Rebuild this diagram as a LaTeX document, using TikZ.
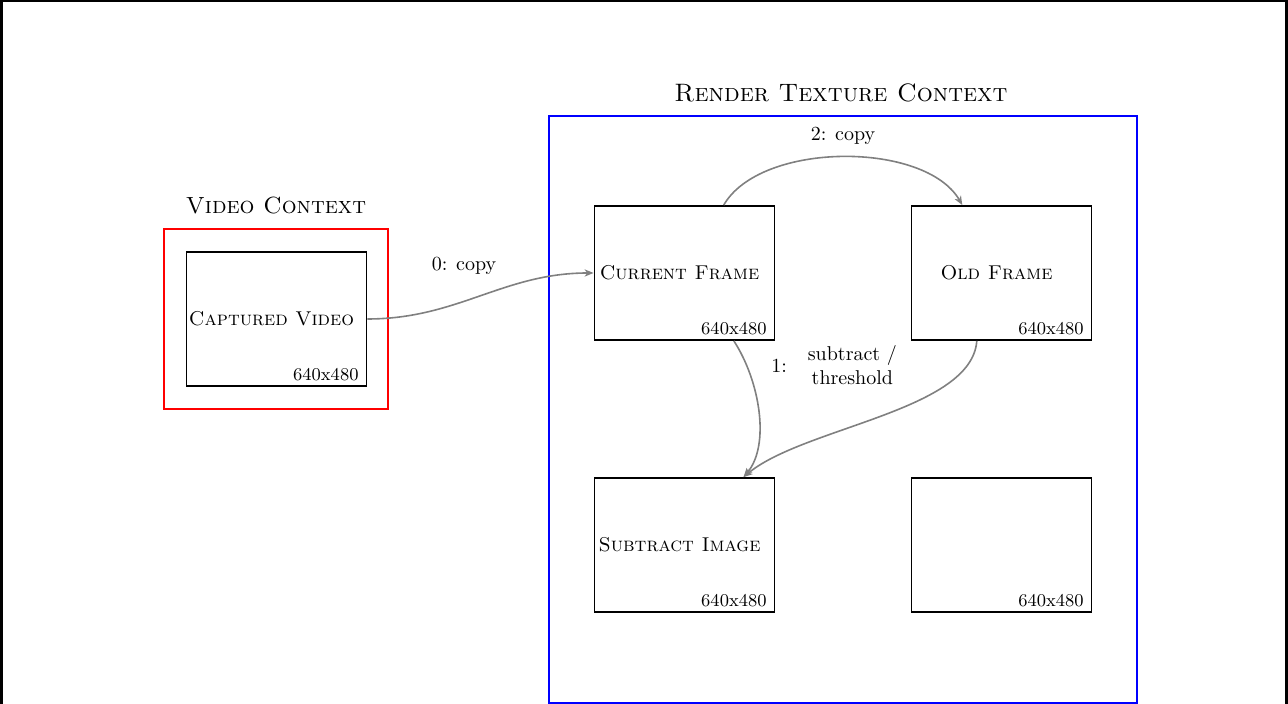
\documentclass[tikz,border=0pt]{standalone}
\usetikzlibrary{arrows.meta}
\begin{document}
\begin{tikzpicture}[x=0.5pt,y=0.5pt,
  frame/.style={draw, line width=0.9pt, minimum width=90pt, minimum height=67pt, inner sep=0pt},
  dim/.style={font=\small, inner sep=0pt, anchor=base east},
  arr/.style={draw=gray, line width=0.8pt, -{Stealth[length=4.5pt,width=3.6pt,inset=1.3pt]}},
  ctx/.style={anchor=base, inner sep=0pt},
  lbl/.style={anchor=base, inner sep=0pt}]
\useasboundingbox (0,0) rectangle (1288,704);
% page edge lines
\fill (0,0) rectangle (3,704);
\fill (0,702) rectangle (1288,704);
\fill (1285,0) rectangle (1288,704);
% contexts
\draw[red, line width=0.9pt] (164,295) rectangle (388,475);
\draw[blue, line width=0.9pt] (549,1) rectangle (1137,588);
\node[ctx, font=\fontsize{11.7}{14}\selectfont] (vctx) at (276,490) {\textsc{Video Context}};
\node[ctx, font=\fontsize{12.6}{15}\selectfont] (rctx) at (841,602) {\textsc{Render Texture Context}};
% frames
\node[frame] (cv) at (276.5,385) {\textsc{Captured Video}\rule{5pt}{0pt}};
\node[frame] (cf) at (684.5,431) {\textsc{Current Frame}\rule{5pt}{0pt}};
\node[frame] (of) at (1001.5,431) {\textsc{Old Frame}\rule{5pt}{0pt}};
\node[frame] (si) at (684.5,159) {\textsc{Subtract Image}\rule{5pt}{0pt}};
\node[frame] (e4) at (1001.5,159) {};
\node[dim] (dcv) at ([shift={(-8.5,6.7)}]cv.south east) {640x480};
\node[dim] (dcf) at ([shift={(-8.5,6.7)}]cf.south east) {640x480};
\node[dim] (dof) at ([shift={(-8.5,6.7)}]of.south east) {640x480};
\node[dim] (dsi) at ([shift={(-8.5,6.7)}]si.south east) {640x480};
\node[dim] (de4) at ([shift={(-8.5,6.7)}]e4.south east) {640x480};
% connectors
\draw[arr] (cv) to[out=0,in=180] (cf);
\draw[arr] (cf.60) .. controls +(60:74) and +(120:74) .. (of.120);
\draw[arr] (cf.-54.7) .. controls +(26,-40) and +(27,32) .. (si.49.5);
\draw[arr] (of.-110) .. controls +(-5,-70) and +(60,50) .. (si.49.5);
% labels
\node[lbl] (l0) at (464,433.3) {0: copy};
\node[lbl] (l2) at (843,563.3) {2: copy};
\node[anchor=west, inner sep=0pt] (l1) at (771,336) {1: \begin{tabular}{c}subtract /\\ threshold\end{tabular}};
\end{tikzpicture}
\end{document}
